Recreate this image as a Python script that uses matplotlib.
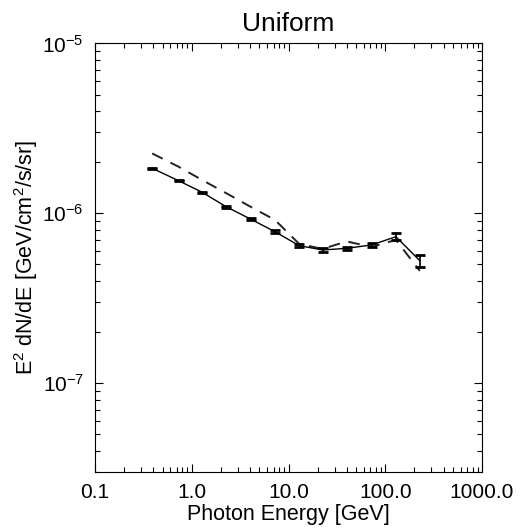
import matplotlib
matplotlib.use("Agg")
import matplotlib.pyplot as plt
import numpy as np
from matplotlib.ticker import LogLocator, FixedLocator, FixedFormatter, NullFormatter

plt.rcParams['font.family'] = ['Liberation Sans', 'DejaVu Sans']
plt.rcParams['mathtext.fontset'] = 'custom'
plt.rcParams['mathtext.rm'] = 'Liberation Sans'
plt.rcParams['mathtext.it'] = 'Liberation Sans:italic'

# Data
energy = [0.39, 0.73, 1.28, 2.26, 4.09, 7.24, 12.9, 22.5, 39.8, 72.2, 128.8, 227.6]
flux = [1.84e-6, 1.555e-6, 1.33e-6, 1.094e-6, 9.22e-7, 7.79e-7, 6.45e-7, 6.08e-7,
        6.22e-7, 6.51e-7, 7.28e-7, 5.26e-7]
flux_err = [0.01e-6, 0.012e-6, 0.012e-6, 0.014e-6, 0.013e-6, 0.014e-6, 0.013e-6, 0.013e-6,
            0.013e-6, 0.016e-6, 0.034e-6, 0.045e-6]
model = [2.25e-6, 1.88e-6, 1.57e-6, 1.315e-6, 1.089e-6, 9.14e-7, 6.6e-7, 6.17e-7,
         6.83e-7, 6.34e-7, 6.97e-7, 4.58e-7]

xticks = [0.1, 1.0, 10.0, 100.0, 1000.0]
xticklabels = ['0.1', '1.0', '10.0', '100.0', '1000.0']
yticks = [1e-7, 1e-6, 1e-5]
yticklabels = [r'$10^{-7}$', r'$10^{-6}$', r'$10^{-5}$']

fig = plt.figure(figsize=(5.2, 5.29), dpi=100)
ax = fig.add_axes([0.1827, 0.1077, 0.927 - 0.1827, 0.918 - 0.1077])

ax.plot(energy, model, color='#222222', lw=1.4, linestyle=(0, (6, 4.5)))
ax.errorbar(energy, flux, yerr=flux_err, color='black', lw=1.0, elinewidth=1.2,
            capsize=3.3, capthick=2.0)

ax.set_xscale('log')
ax.set_yscale('log')
ax.set_xlim(0.1, 1000)
ax.set_ylim(3e-8, 1e-5)

ax.xaxis.set_major_locator(FixedLocator(xticks))
ax.xaxis.set_major_formatter(FixedFormatter(xticklabels))
ax.xaxis.set_minor_locator(LogLocator(base=10, subs=np.arange(2, 10), numticks=20))
ax.xaxis.set_minor_formatter(NullFormatter())
ax.yaxis.set_major_locator(FixedLocator(yticks))
ax.yaxis.set_major_formatter(FixedFormatter(yticklabels))
ax.yaxis.set_minor_locator(LogLocator(base=10, subs=np.arange(2, 10), numticks=20))
ax.yaxis.set_minor_formatter(NullFormatter())

ax.tick_params(which='both', direction='in', top=True, right=True, width=0.8)
ax.tick_params(which='major', length=6, labelsize=15, pad=8)
ax.tick_params(which='minor', length=3.5)
for s in ax.spines.values():
    s.set_linewidth(0.8)

ax.set_xlabel('Photon Energy [GeV]', fontsize=15.5, labelpad=1)
ax.set_ylabel(r'E$^2$ dN/dE [GeV/cm$^2$/s/sr]', fontsize=15.5, labelpad=2)
ax.set_title('Uniform', fontsize=19, pad=9)

fig.savefig('out.png', dpi=100)
